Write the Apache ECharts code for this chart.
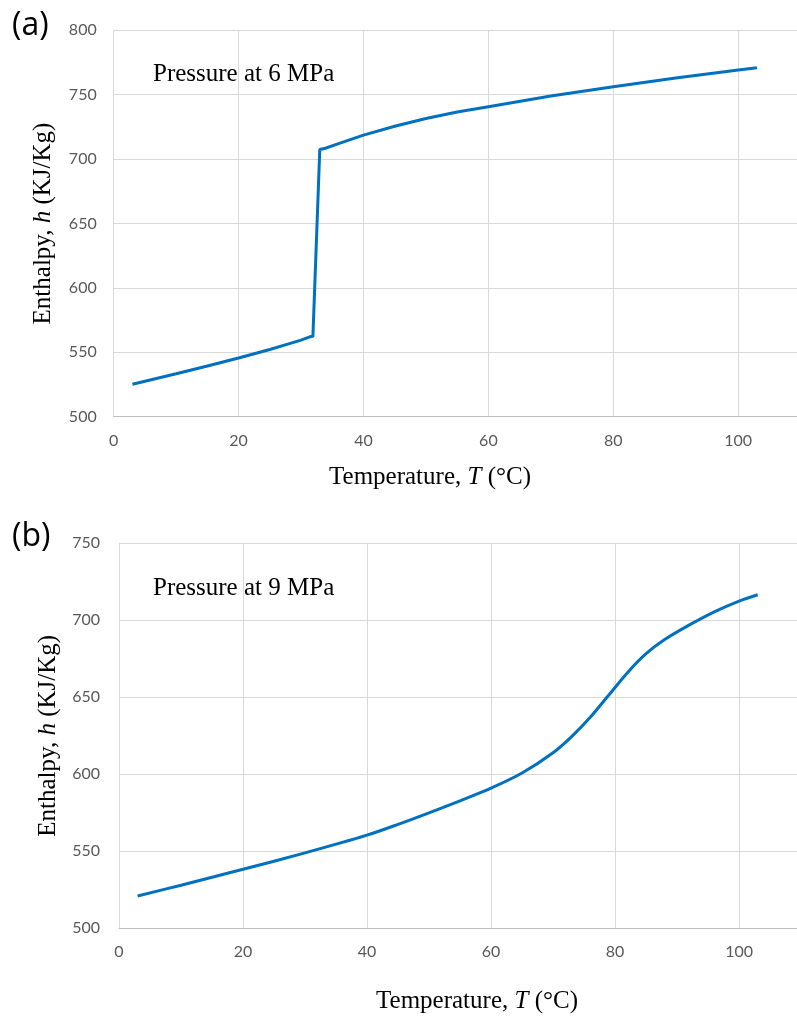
<!DOCTYPE html>
<html>
<head>
<meta charset="utf-8">
<script src="https://cdn.jsdelivr.net/npm/echarts@6/dist/echarts.min.js"></script>
<style>
  html, body { margin: 0; padding: 0; background: #fff; overflow: hidden; }
  #chart { width: 880px; height: 1019px; }
</style>
</head>
<body>
<div id="chart"></div>
<script>
// (a) 6 MPa
const tempA = [3, 10, 15, 20, 25, 28, 30, 31.4, 31.9, 33.0, 33.9, 36, 40, 45, 50, 55, 60, 70, 80, 90, 100, 103]
const enthA = [525.2, 533.4, 539.4, 545.6, 552.2, 556.5, 559.5, 562, 562.4, 707.4, 708.4, 712, 718.6, 725.5, 731.5, 736.5, 740.7, 749, 756.2, 763, 769.2, 771]
// (b) 9 MPa
const tempB = [3, 10, 20, 30, 40, 45, 50, 55, 60, 65, 70, 73, 76, 79, 82, 85, 88, 92, 96, 100, 103]
const enthB = [521, 528, 538.3, 549, 560.5, 567.5, 575, 582.8, 591, 600.8, 614, 624.5, 637, 651.5, 666, 678.3, 687.5, 697, 705.5, 712.5, 716.6]

const xTicks = { min: 0, max: 120, interval: 20 }
const yRangeA = { min: 500, max: 800, interval: 50 }
const yRangeB = { min: 500, max: 750, interval: 50 }

const zip = (xs, ys) => xs.map((x, i) => [x, ys[i]])

const gridColor = '#d9d9d9'
const labelStyle = { color: '#595959', fontFamily: 'Lato', fontSize: 16 }
const serif = 'Liberation Serif'
const nameRich = {
  r: { fontFamily: serif, fontSize: 25, color: '#000' },
  i: { fontFamily: serif, fontSize: 25, color: '#000', fontStyle: 'italic' }
}

const makeX = (gridIndex) => ({
  type: 'value',
  gridIndex,
  ...xTicks,
  axisLine: { show: true, lineStyle: { color: '#bfbfbf', width: 1 } },
  axisTick: { show: false },
  axisLabel: { ...labelStyle, margin: 16 },
  splitLine: { show: true, lineStyle: { color: gridColor, width: 1 } }
})

const makeY = (gridIndex, range, margin) => ({
  type: 'value',
  gridIndex,
  ...range,
  axisLine: { show: false },
  axisTick: { show: false },
  axisLabel: { ...labelStyle, margin },
  splitLine: { show: true, lineStyle: { color: gridColor, width: 1 } },
  name: '{r|Enthalpy, }{i|h}{r| (KJ/Kg)}',
  nameLocation: 'middle',
  nameRotate: 90,
  nameGap: 58,
  nameTextStyle: { rich: nameRich }
})

const lineSeries = (idx, data, smooth) => ({
  type: 'line',
  xAxisIndex: idx,
  yAxisIndex: idx,
  data,
  smooth,
  showSymbol: false,
  lineStyle: { color: '#0070c0', width: 3 },
  silent: true
})

const textEl = (x, y, text, extra) => ({
  type: 'text',
  x,
  y,
  style: {
    text,
    fill: '#000',
    verticalAlign: 'middle',
    ...extra
  }
})

const chart = echarts.init(document.getElementById('chart'), null, { renderer: 'canvas' })
chart.setOption({
  animation: false,
  grid: [
    { left: 113.7, top: 30.3, width: 754, height: 386.4 },
    { left: 119, top: 543.3, width: 754, height: 385 }
  ],
  xAxis: [makeX(0), makeX(1)],
  yAxis: [makeY(0, yRangeA, 17), makeY(1, yRangeB, 19)],
  series: [
    lineSeries(0, zip(tempA, enthA), false),
    lineSeries(1, zip(tempB, enthB), 0.3)
  ],
  graphic: [
    textEl(12, 26, '(a)', { font: '32px "Open Sans"' }),
    textEl(12, 537, '(b)', { font: '32px "Open Sans"' }),
    textEl(153, 74, 'Pressure at 6 MPa', { font: '25px "Liberation Serif"' }),
    textEl(153, 588, 'Pressure at 9 MPa', { font: '25px "Liberation Serif"' }),
    textEl(430, 477, '{r|Temperature, }{i|T}{r| (°C)}', { align: 'center', rich: nameRich }),
    textEl(477, 1001, '{r|Temperature, }{i|T}{r| (°C)}', { align: 'center', rich: nameRich })
  ]
})
</script>
</body>
</html>
